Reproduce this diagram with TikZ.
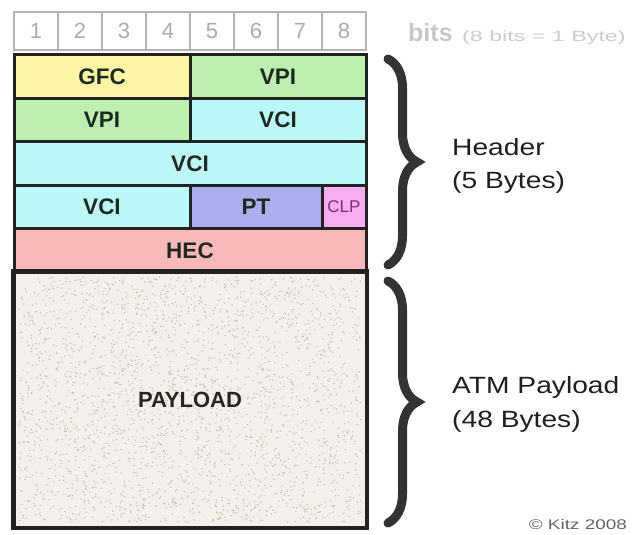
\documentclass[tikz,border=0pt]{standalone}
\usepackage{fontspec}
\setmainfont{Liberation Sans}
\newfontfamily\widefont{Liberation Sans}[FakeStretch=1.2]
\newfontfamily\xwidefont{Liberation Sans}[FakeStretch=1.55]
\newfontfamily\cwidefont{Liberation Sans}[FakeStretch=1.35]
\usetikzlibrary{decorations.pathreplacing}
\definecolor{gfcY}{HTML}{FDF5A6}
\definecolor{vpiG}{HTML}{BDEFB0}
\definecolor{vciC}{HTML}{BDF8F8}
\definecolor{ptL}{HTML}{ABADEF}
\definecolor{clpP}{HTML}{F6AEF0}
\definecolor{hecR}{HTML}{F9B8BA}
\definecolor{payB}{HTML}{F3F0EB}
\definecolor{speckC}{HTML}{C4BDB3}
\definecolor{frameK}{HTML}{222222}
\definecolor{bitG}{HTML}{B4B4B4}
\definecolor{bitT}{HTML}{ABABAB}
\definecolor{braceK}{HTML}{333333}
\definecolor{clpT}{HTML}{7B2D7B}
\definecolor{lblK}{HTML}{1E2A1E}
\tikzset{
  bitcell/.style={draw=bitG, line width=1.2pt, minimum width=44, minimum height=38, inner sep=0, text=bitT, font=\fontsize{22}{24}\selectfont},
  field/.style={draw=frameK, line width=3pt, inner sep=0, minimum height=43.5, font=\bfseries\fontsize{22.5}{24}\selectfont, text=lblK},
  bracestyle/.style={draw=braceK, line width=9pt, line cap=round, decorate, decoration={brace, amplitude=29pt}},
  sidelbl/.style={anchor=base west, inner sep=0, text=black!88, font=\widefont\fontsize{23.5}{26}\selectfont},
  speck/.style={fill=speckC}
}
\begin{document}
\begin{tikzpicture}[x=1pt,y=-1pt]
\useasboundingbox (0,0) rectangle (632,535);
% bit numbers row
\foreach \n in {1,...,8}{
  \node[bitcell] (b\n) at ({14+44*(\n-0.5)},31) {\n};
}
\node[anchor=base west, inner sep=0, text=black!22, font=\bfseries\fontsize{25}{27}\selectfont] (bits) at (408,42) {bits};
\node[anchor=base west, inner sep=0, text=black!20, font=\xwidefont\fontsize{15}{17}\selectfont] (bitsnote) at (462,42) {(8 bits = 1 Byte)};
% header fields
\node[field, fill=gfcY, minimum width=176] (gfc) at (102,76.5) {GFC};
\node[field, fill=vpiG, minimum width=176] (vpiA) at (278,76.5) {VPI};
\node[field, fill=vpiG, minimum width=176] (vpiB) at (102,120) {VPI};
\node[field, fill=vciC, minimum width=176] (vciA) at (278,120) {VCI};
\node[field, fill=vciC, minimum width=352] (vciB) at (190,163.5) {VCI};
\node[field, fill=vciC, minimum width=176] (vciC) at (102,207) {VCI};
\node[field, fill=ptL, minimum width=132] (pt) at (256,207) {PT};
\node[field, fill=clpP, minimum width=44, text=clpT, font=\fontsize{17}{19}\selectfont] (clp) at (344,207) {CLP};
\node[field, fill=hecR, minimum width=352] (hec) at (190,250.5) {HEC};
% payload
\node[field, fill=payB, minimum width=352, minimum height=255] (pay) at (190,399.5) {};
\pgfmathsetseed{7}
\foreach \i in {1,...,2600}{
  \pgfmathsetmacro\px{19+342*rnd}
  \pgfmathsetmacro\py{277+245*rnd}
  \fill[speck] (\px,\py) circle (0.8);
}
\draw[draw=frameK, line width=3pt] (pay.north west) rectangle (pay.south east);
\node[inner sep=0, font=\bfseries\fontsize{22}{24}\selectfont, text=black!85] (paylbl) at (pay.center) {PAYLOAD};
% braces
\coordinate (hbt) at (388,59);
\coordinate (hbb) at (388,265);
\coordinate (pbt) at (388,281);
\coordinate (pbb) at (388,523);
\draw[bracestyle] (hbt) -- (hbb);
\draw[bracestyle] (pbt) -- (pbb);
% side labels
\node[sidelbl] (hdrA) at (452,155) {Header};
\node[sidelbl] (hdrB) at (452,188) {(5 Bytes)};
\node[sidelbl] (atmA) at (452,393) {ATM Payload};
\node[sidelbl] (atmB) at (452,427) {(48 Bytes)};
\node[anchor=base east, inner sep=0, text=black!60, font=\cwidefont\fontsize{14}{16}\selectfont] (copy) at (627,529) {© Kitz 2008};
\end{tikzpicture}
\end{document}
